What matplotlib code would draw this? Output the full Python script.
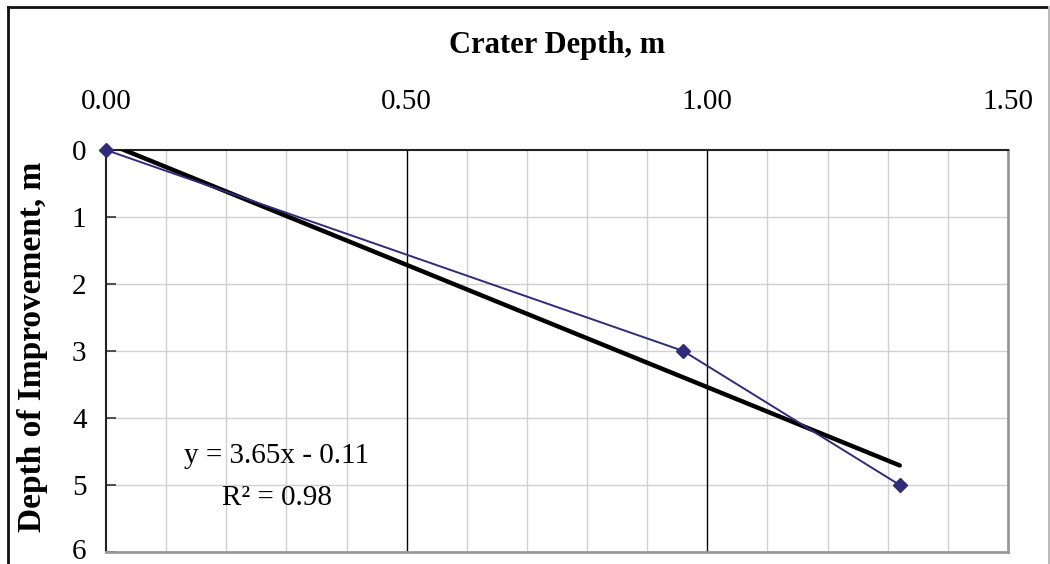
import matplotlib
matplotlib.use("Agg")
import matplotlib.pyplot as plt
import matplotlib.transforms as mtransforms
from matplotlib.lines import Line2D
import numpy as np

# Measured crater depth vs. depth of improvement
crater_depth = [0.00, 0.96, 1.32]
improvement_depth = [0.0, 3.0, 5.0]

# Linear trend line reported on the chart
slope = 3.65
intercept = -0.11
r_squared = 0.98

x_ticks = [0.00, 0.50, 1.00, 1.50]
y_ticks = [0, 1, 2, 3, 4, 5, 6]

plt.rcParams['font.family'] = ['Liberation Serif', 'DejaVu Serif']

W, H = 1050, 564
fig = plt.figure(figsize=(W / 100, H / 100), dpi=100)

left, right, top, bottom = 106, 1008, 150, 552
ax = fig.add_axes([left / W, 1 - bottom / H, (right - left) / W, (bottom - top) / H])

ax.set_xlim(0, 1.5)
ax.set_ylim(6, 0)

# grid: light minor verticals, black major verticals, light horizontals
for xv in np.arange(0.1, 1.5, 0.1):
    if abs(xv - 0.5) < 1e-6 or abs(xv - 1.0) < 1e-6:
        continue
    ax.axvline(xv, color='#d0d0d0', lw=1.0, zorder=0)
for xv in (0.5, 1.0):
    ax.axvline(xv, color='black', lw=1.0, zorder=0.5)
for yv in y_ticks[1:-1]:
    ax.axhline(yv, color='#d0d0d0', lw=1.0, zorder=0)

# trend line across the data range
xt = np.array([crater_depth[0], crater_depth[-1]])
ax.plot(xt, slope * xt + intercept, color='black', lw=3.2, solid_capstyle='round', zorder=3)

# measured data
ax.plot(crater_depth, improvement_depth, color='#302c78', lw=1.4, marker='D',
        markersize=7, markerfacecolor='#302c78', markeredgecolor='#302c78',
        zorder=4, clip_on=False)

ax.xaxis.tick_top()
ax.set_xticks(x_ticks)
ax.set_xticklabels([f"{v:.2f}" for v in x_ticks])
ax.set_yticks(y_ticks)
ax.tick_params(axis='x', direction='in', length=0, pad=25, labelsize=21)
ax.tick_params(axis='y', direction='in', length=7, width=1.2, pad=14, labelsize=21,
               color='#333333')

# keep the bottom tick label inside the canvas
last = ax.get_yticklabels()[-1]
last.set_transform(last.get_transform() +
                   mtransforms.ScaledTranslation(0, 2.5 / 72, fig.dpi_scale_trans))

for side in ('top', 'left'):
    ax.spines[side].set_color('#222222')
    ax.spines[side].set_linewidth(1.5)
for side in ('right', 'bottom'):
    ax.spines[side].set_color('#999999')
    ax.spines[side].set_linewidth(2.0)

fig.text(557 / W, 1 - 46 / H, "Crater Depth, m", ha='center', va='center',
         fontsize=22, fontweight='bold')
fig.text(33 / W, 1 - 347 / H, "Depth of Improvement, m", ha='center', va='center',
         rotation=90, fontsize=24, fontweight='bold')

fig.text(277 / W, 1 - 456 / H, f"y = {slope:.2f}x - {abs(intercept):.2f}",
         ha='center', va='center', fontsize=21)
fig.text(277 / W, 1 - 498 / H, f"R\u00b2 = {r_squared:.2f}",
         ha='center', va='center', fontsize=21)

# outer chart frame (open at the bottom edge)
def fig_line(x0, y0, x1, y1, color, lw):
    fig.add_artist(Line2D([x0 / W, x1 / W], [1 - y0 / H, 1 - y1 / H],
                          transform=fig.transFigure, color=color, lw=lw))

fig_line(8, 7, 1049, 7, '#111111', 2.0)
fig_line(8, 7, 8, H, '#111111', 2.0)
fig_line(1049, 7, 1049, H, '#bbbbbb', 1.5)

fig.savefig("out.png", dpi=100)
